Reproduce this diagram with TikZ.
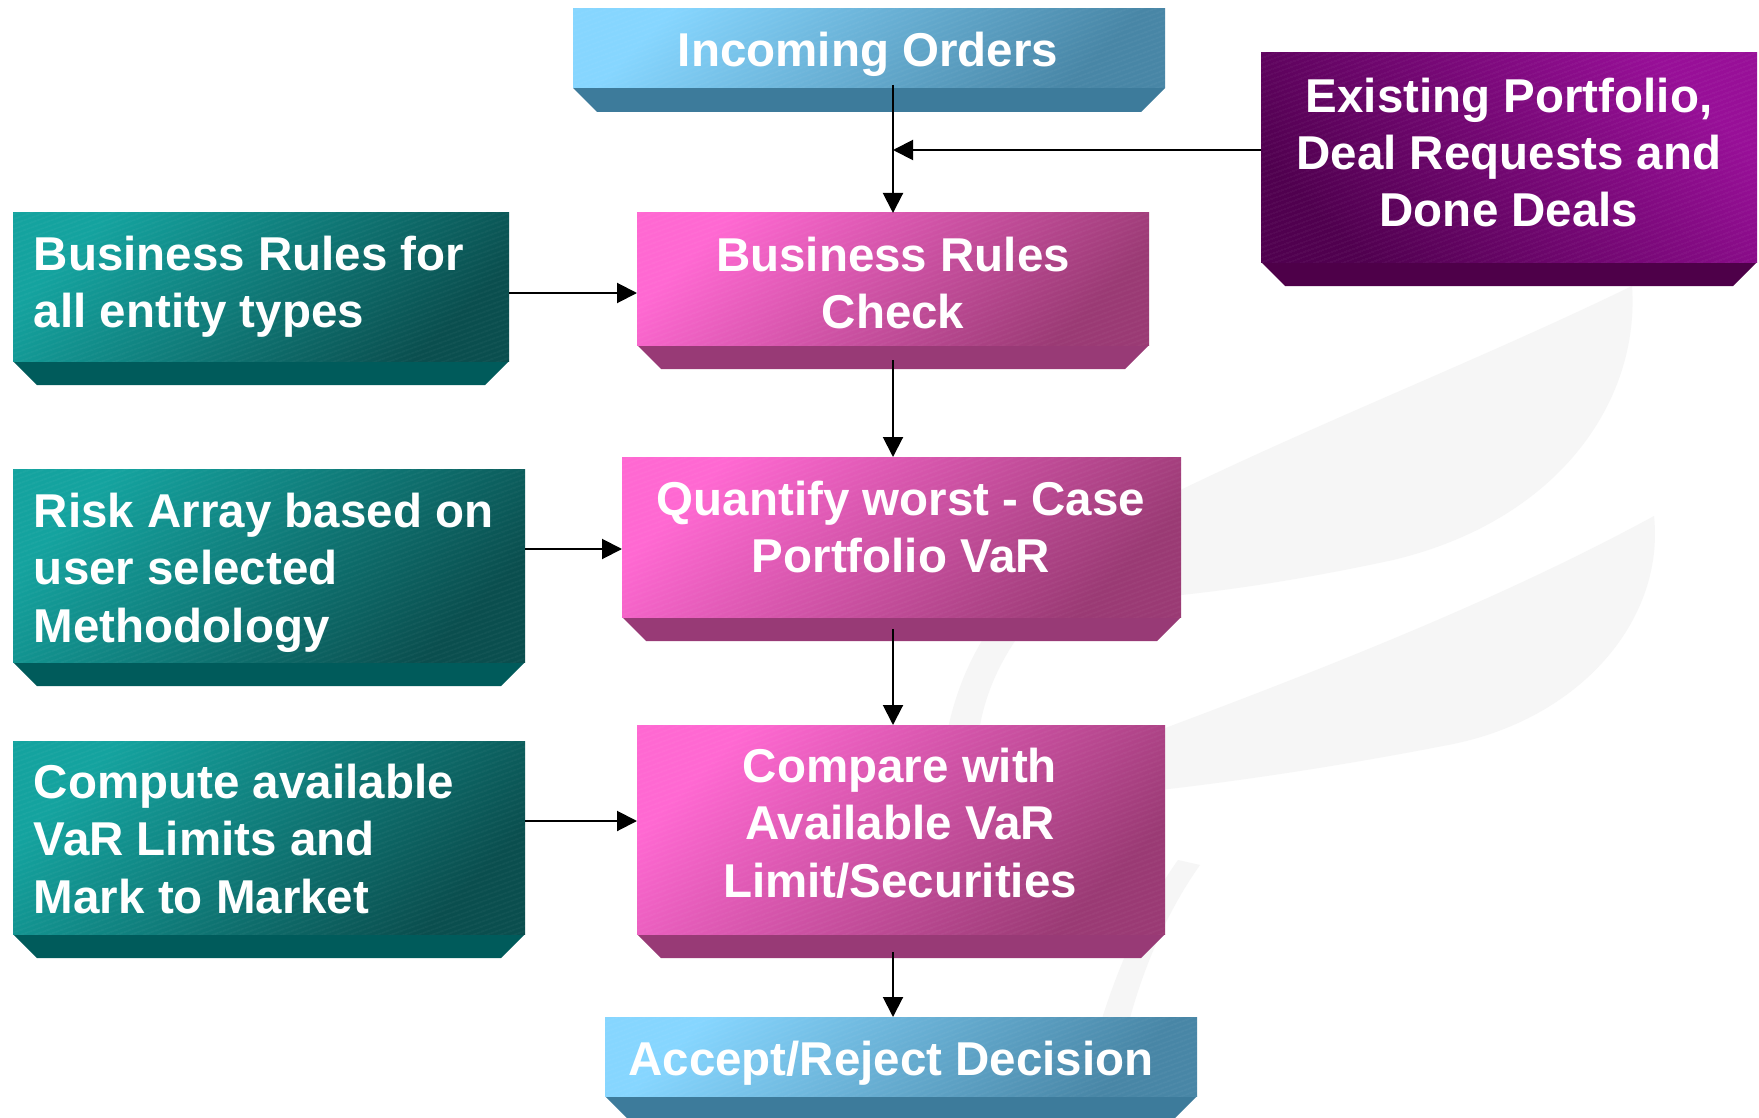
\documentclass[tikz,border=0pt]{standalone}
\usepackage{fontspec}
\setmainfont{Liberation Sans}
\usetikzlibrary{arrows.meta,patterns.meta,calc}
\definecolor{tealA}{HTML}{14A39F}
\definecolor{tealB}{HTML}{0A4E4E}
\definecolor{tealBev}{HTML}{005B5B}
\definecolor{pinkA}{HTML}{FF68D2}
\definecolor{pinkB}{HTML}{9A3A74}
\definecolor{pinkBev}{HTML}{983A76}
\definecolor{blueA}{HTML}{86D6FF}
\definecolor{blueB}{HTML}{4886A6}
\definecolor{blueBev}{HTML}{3D7B9B}
\definecolor{purpA}{HTML}{980F98}
\definecolor{purpB}{HTML}{50004F}
\definecolor{purpBev}{HTML}{4E0049}
\definecolor{wmgray}{HTML}{F6F6F6}
\tikzset{
  txt/.style={text=white, font=\fontsize{47.5}{57.5}\selectfont\bfseries, inner sep=0pt, outer sep=0pt},
  arr/.style={line width=2pt, -{Triangle[length=20pt,width=20pt]}},
  facebox/.style={inner sep=0pt, outer sep=0pt, anchor=north west, shading=axis},
  wm/.style={fill=wmgray},
}
% #1 name, #2 x1, #3 y1, #4 x2, #5 y of face bottom, #6 light, #7 dark, #8 bevel, #9 shading angle
\newcommand{\bevbox}[9]{%
  \fill[#8] (#2,#5) -- (#4,#5) -- ({#4-24},{#5+24}) -- ({#2+24},{#5+24}) -- cycle;
  \node[facebox, minimum width={(#4-#2)*1pt}, minimum height={(#5-#3)*1pt},
        top color=#6, bottom color=#7, shading angle=#9] (#1) at (#2,#3) {};
  \fill[pattern={Lines[angle=20,distance=4pt,line width=0.7pt]}, pattern color=white, fill opacity=0.10]
    (#1.north west) rectangle (#1.south east);
}
\begin{document}
\begin{tikzpicture}[x=1pt,y=-1pt]
\useasboundingbox (0,0) rectangle (1759,1118);
\fill[white] (0,0) rectangle (1759,1118);

% faint watermark
\fill[wm] (1150,505) .. controls (1300,430) and (1480,360) .. (1632,286)
  .. controls (1640,400) and (1560,520) .. (1393,560)
  .. controls (1300,580) and (1220,592) .. (1150,598) -- cycle;
\fill[wm] (1160,730) .. controls (1320,670) and (1500,600) .. (1654,516)
  .. controls (1665,620) and (1580,720) .. (1448,745)
  .. controls (1330,768) and (1230,782) .. (1160,790) -- cycle;
\fill[wm] (992,625) .. controls (968,660) and (952,700) .. (945,745)
  -- (977,745) .. controls (982,700) and (997,665) .. (1024,628) -- cycle;
\fill[wm] (1178,860) .. controls (1146,905) and (1120,960) .. (1100,1025)
  -- (1128,1025) .. controls (1144,965) and (1168,910) .. (1200,865) -- cycle;

% boxes
\bevbox{io}{573}{9}{1165}{88}{blueA}{blueB}{blueBev}{45}
\bevbox{ep}{1261}{53}{1757}{262}{purpA}{purpB}{purpBev}{-45}
\bevbox{br}{13}{213}{509}{361}{tealA}{tealB}{tealBev}{45}
\bevbox{brc}{637}{213}{1149}{345}{pinkA}{pinkB}{pinkBev}{45}
\bevbox{ra}{13}{469}{525}{662}{tealA}{tealB}{tealBev}{45}
\bevbox{qw}{622}{457}{1181}{617}{pinkA}{pinkB}{pinkBev}{45}
\bevbox{cm}{13}{741}{525}{934}{tealA}{tealB}{tealBev}{45}
\bevbox{cmp}{637}{725}{1165}{934}{pinkA}{pinkB}{pinkBev}{45}
\bevbox{ar}{605}{1017}{1197}{1096}{blueA}{blueB}{blueBev}{45}

% texts
\node[txt, anchor=north] (tio) at (868,27) {\rule{0pt}{40pt}Incoming Orders};
\node[txt, anchor=north, align=center] (tep) at (1509,72)
  {\rule{0pt}{40pt}Existing Portfolio,\\Deal Requests and\\Done Deals};
\node[txt, anchor=north west, align=left] (tbr) at (34,230)
  {\rule{0pt}{40pt}Business Rules for\\all entity types};
\node[txt, anchor=north, align=center] (tbrc) at (893,231)
  {\rule{0pt}{40pt}Business Rules\\Check};
\node[txt, anchor=north west, align=left] (tra) at (34,487)
  {\rule{0pt}{40pt}Risk Array based on\\user selected\\Methodology};
\node[txt, anchor=north, align=center] (tqw) at (901,475)
  {\rule{0pt}{40pt}Quantify worst - Case\\Portfolio VaR};
\node[txt, anchor=north west, align=left] (tcm) at (34,758)
  {\rule{0pt}{40pt}Compute available\\VaR Limits and\\Mark to Market};
\node[txt, anchor=north, align=center] (tcmp) at (900,742)
  {\rule{0pt}{40pt}Compare with\\Available VaR\\Limit/Securities};
\node[txt, anchor=north] (tar) at (891,1035) {\rule{0pt}{40pt}Accept/Reject Decision};

% connectors
\coordinate (spine) at (893,0);
\draw[arr] ($(io.south -| spine)+(0,3pt)$) -- (spine |- brc.north);
\draw[arr] ($(ep.west)+(0,7.5pt)$) -- ($(spine |- ep.west)+(0,7.5pt)$);
\draw[arr] ($(br.east)+(0,-6pt)$) -- ($(brc.west |- br.east)+(0,-6pt)$);
\draw[arr] ($(spine |- brc.south)+(0,-15pt)$) -- (spine |- qw.north);
\draw[arr] ($(ra.east)+(0,16.5pt)$) -- ($(qw.west |- ra.east)+(0,16.5pt)$);
\draw[arr] ($(spine |- qw.south)+(0,-12pt)$) -- (spine |- cmp.north);
\draw[arr] ($(cm.east)+(0,16.5pt)$) -- ($(cmp.west |- cm.east)+(0,16.5pt)$);
\draw[arr] ($(spine |- cmp.south)+(0,-18pt)$) -- (spine |- ar.north);
\end{tikzpicture}
\end{document}
